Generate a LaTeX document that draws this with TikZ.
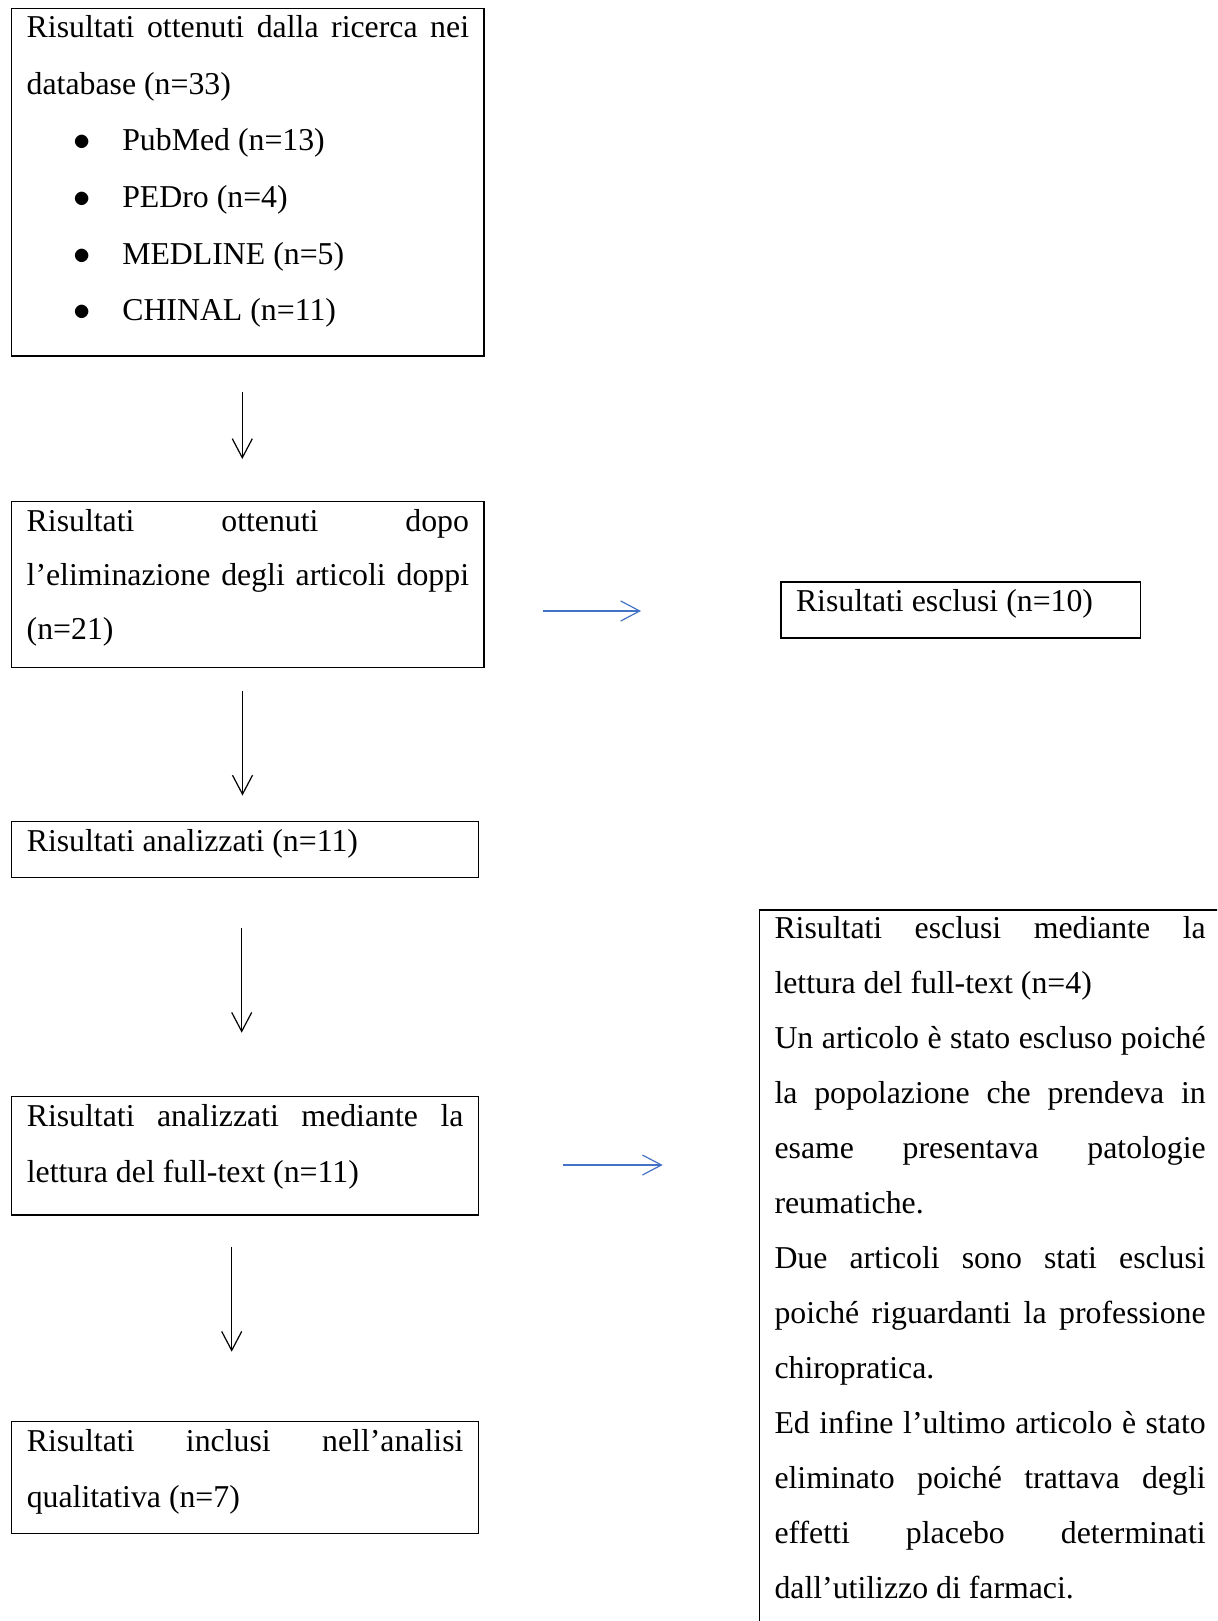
\documentclass[tikz,border=0pt]{standalone}
\usepackage{fontspec}
\setmainfont{Liberation Serif}
\usetikzlibrary{arrows.meta, positioning}
\definecolor{wordblue}{RGB}{68,114,196}
\hbadness=10000

\begin{document}
\begin{tikzpicture}[
    x=0.5pt, y=-0.5pt,
    box/.style={draw, line width=0.6pt, anchor=north west, outer sep=0pt, inner xsep=7.5pt, inner ysep=0pt, align=justify, text height=14.75pt, font=\fontsize{15.9}{28.3}\selectfont},
    arr/.style={-{Straight Barb[length=9.5pt, width=10pt]}, line width=0.6pt},
    bluearr/.style={arr, draw=wordblue}
]
\clip (0,0) rectangle (1217,1621);

% Search results
\node[box, text width=221.15pt, minimum width=236.15pt, text depth=159.1pt] (search) at (11.7,8.3) {Risultati ottenuti dalla ricerca nei\linebreak database (n=33)\par
    \hspace*{23.5pt}\makebox[24.3pt][l]{$\bullet$}PubMed (n=13)\par
    \hspace*{23.5pt}\makebox[24.3pt][l]{$\bullet$}PEDro (n=4)\par
    \hspace*{23.5pt}\makebox[24.3pt][l]{$\bullet$}MEDLINE (n=5)\par
    \hspace*{23.5pt}\makebox[24.3pt][l]{$\bullet$}CHINAL (n=11)};

% Duplicates removed
\node[box, text width=221.15pt, minimum width=236.15pt, text depth=68.05pt, font=\fontsize{15.9}{27}\selectfont] (dedup) at (11.7,501.7) {Risultati ottenuti dopo\linebreak l’eliminazione degli articoli doppi\linebreak (n=21)};
\node[box, text width=164.75pt, minimum width=179.75pt, text depth=13.25pt] (excl) at (781,582) {Risultati esclusi (n=10)};

% Screening
\node[box, text width=218.3pt, minimum width=233.4pt, text depth=13.25pt] (analysed) at (11.7,821.7) {Risultati analizzati (n=11)};

% Full-text
\node[box, text width=218.3pt, minimum width=233.4pt, text depth=44.4pt] (fulltext) at (11.7,1096.7) {Risultati analizzati mediante la\linebreak lettura del full-text (n=11)};
\node[box, text width=215.6pt, minimum width=229.4pt, text height=14pt, text depth=400pt, font=\fontsize{15.9}{27.5}\selectfont] (exclft) at (759.5,910) {Risultati esclusi mediante la\linebreak lettura del full-text (n=4)\par
    Un articolo è stato escluso poiché\linebreak la popolazione che prendeva in\linebreak esame presentava patologie\linebreak reumatiche.\par
    Due articoli sono stati esclusi\linebreak poiché riguardanti la professione\linebreak chiropratica.\par
    Ed infine l’ultimo articolo è stato\linebreak eliminato poiché trattava degli\linebreak effetti placebo determinati\linebreak dall’utilizzo di farmaci.};

% Included
\node[box, text width=218.3pt, minimum width=233.4pt, text depth=41.05pt] (included) at (11.7,1421.7) {Risultati inclusi nell’analisi\linebreak qualitativa (n=7)};

% Arrow ends
\coordinate (d1top) at (242.3,391.7);
\coordinate (d1tip) at (242.3,459);
\coordinate (d2top) at (242.5,690.7);
\coordinate (d2tip) at (242.5,795.5);
\coordinate (d3top) at (241.7,928);
\coordinate (d3tip) at (241.7,1032.7);
\coordinate (d4top) at (231.7,1247.3);
\coordinate (d4tip) at (231.7,1351.7);
\coordinate (r1start) at (542.8,611);
\coordinate (r1tip) at (641,611);
\coordinate (r2start) at (563,1165);
\coordinate (r2tip) at (662.7,1165);

% Connections
\draw[arr] (d1top) -- (d1tip);
\draw[arr] (d2top) -- (d2tip);
\draw[arr] (d3top) -- (d3tip);
\draw[arr] (d4top) -- (d4tip);
\draw[bluearr] (r1start) -- (r1tip);
\draw[bluearr] (r2start) -- (r2tip);

\end{tikzpicture}
\end{document}
